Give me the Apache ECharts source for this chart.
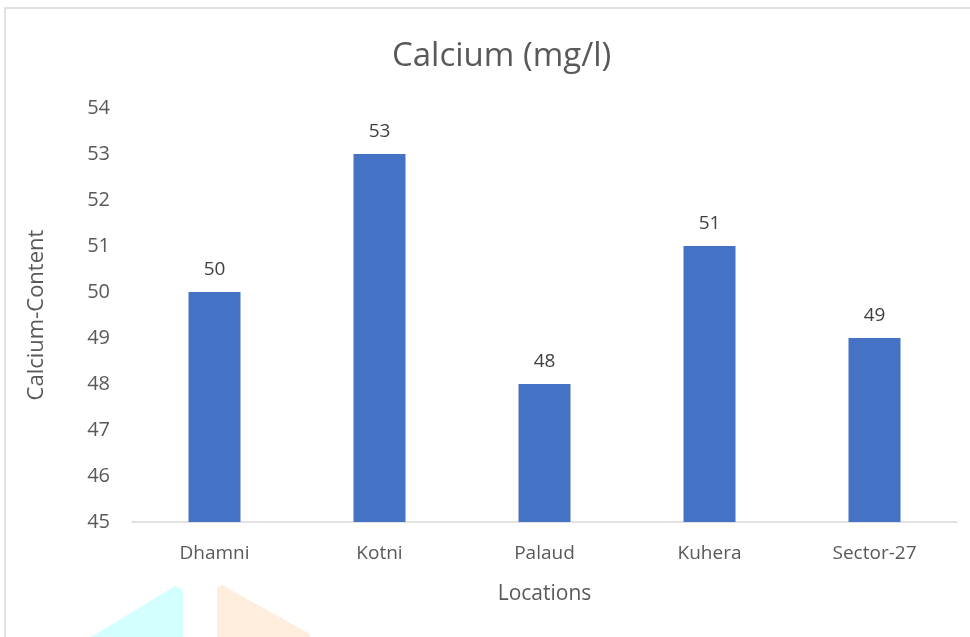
<!DOCTYPE html>
<html>
<head>
<meta charset="utf-8">
<script src="https://cdn.jsdelivr.net/npm/echarts@6/dist/echarts.min.js"></script>
<style>
  html, body { margin: 0; padding: 0; background: #fff; }
  #chart { width: 970px; height: 637px; }
</style>
</head>
<body>
<div id="chart"></div>
<script>
  const locations = ['Dhamni', 'Kotni', 'Palaud', 'Kuhera', 'Sector-27']
  const calcium = [50, 53, 48, 51, 49]
  const yTicks = { min: 45, max: 54, step: 1 }

  const font = '"Open Sans", "Noto Sans", sans-serif'
  const chart = echarts.init(document.getElementById('chart'))

  chart.setOption({
    backgroundColor: '#ffffff',
    animation: false,
    title: {
      text: 'Calcium (mg/l)',
      left: 387,
      top: 35,
      textStyle: { fontFamily: font, fontSize: 33, fontWeight: 'normal', color: '#595959' }
    },
    grid: { left: 132, right: 13, top: 108, bottom: 115 },
    xAxis: {
      type: 'category',
      data: locations,
      name: 'Locations',
      nameLocation: 'middle',
      nameGap: 62,
      nameTextStyle: { fontFamily: font, fontSize: 21, color: '#595959' },
      axisLine: { lineStyle: { color: '#d9d9d9', width: 1.5 } },
      axisTick: { show: false },
      axisLabel: { fontFamily: font, fontSize: 19, color: '#595959', margin: 22 }
    },
    yAxis: {
      type: 'value',
      min: yTicks.min,
      max: yTicks.max,
      interval: yTicks.step,
      name: 'Calcium-Content',
      nameLocation: 'middle',
      nameGap: 84,
      nameTextStyle: { fontFamily: font, fontSize: 22, color: '#595959' },
      axisLine: { show: false },
      axisTick: { show: false },
      splitLine: { show: false },
      axisLabel: { fontFamily: font, fontSize: 20, color: '#595959', margin: 22 }
    },
    series: [{
      type: 'bar',
      data: calcium,
      barWidth: 52,
      itemStyle: { color: '#4472c4' },
      label: {
        show: true,
        position: 'top',
        distance: 13,
        fontFamily: font,
        fontSize: 19,
        color: '#404040'
      }
    }],
    graphic: [
      // chart frame
      { type: 'polyline', shape: { points: [[5, 637], [5, 8], [970, 8]] },
        style: { stroke: '#d9d9d9', lineWidth: 1.5, fill: null }, silent: true },
      // faint shapes at the bottom of the scan
      { type: 'polygon', shape: { points: [[91, 637], [175, 586], [183, 590], [183, 637]] },
        style: { fill: '#d4ffff' }, silent: true },
      { type: 'polygon', shape: { points: [[217, 637], [217, 587], [222, 585], [310, 634], [310, 637]] },
        style: { fill: '#ffeedd' }, silent: true }
    ]
  })
</script>
</body>
</html>
